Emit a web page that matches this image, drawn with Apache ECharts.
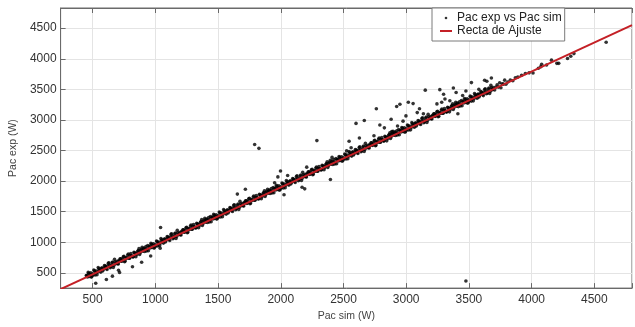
<!DOCTYPE html>
<html>
<head>
<meta charset="utf-8">
<script src="https://cdn.jsdelivr.net/npm/echarts@6/dist/echarts.min.js"></script>
<style>
html,body{margin:0;padding:0;background:#fff;}
#c{width:635px;height:327px;}
</style>
</head>
<body>
<div id="c"></div>
<script>
// ---- data ----
const seriesNames = ['Pac exp vs Pac sim', 'Recta de Ajuste'];
const xAxisName = 'Pac sim (W)';
const yAxisName = 'Pac exp (W)';
const xLimits = [245, 4800];
const yLimits = [250, 4830];

// main band, first pass
const bandSim = [
455,465,475,485,495,
505,515,525,535,545,555,565,575,585,595,
605,615,625,635,645,655,665,675,685,695,
705,715,725,735,745,755,765,775,785,795,
805,815,825,835,845,855,865,875,885,895,
905,915,925,935,945,955,965,975,985,995,
1005,1015,1025,1035,1045,1055,1065,1075,1085,1095,
1105,1115,1125,1135,1145,1155,1165,1175,1185,1195,
1205,1215,1225,1235,1245,1255,1265,1275,1285,1295,
1305,1315,1325,1335,1345,1355,1365,1375,1385,1395,
1405,1415,1425,1435,1445,1455,1465,1475,1485,1495,
1505,1515,1525,1535,1545,1555,1565,1575,1585,1595,
1605,1615,1625,1635,1645,1655,1665,1675,1685,1695,
1705,1715,1725,1735,1745,1755,1765,1775,1785,1795,
1805,1815,1825,1835,1845,1855,1865,1875,1885,1895,
1905,1915,1925,1935,1945,1955,1965,1975,1985,1995,
2005,2015,2025,2035,2045,2055,2065,2075,2085,2095,
2105,2115,2125,2135,2145,2155,2165,2175,2185,2195,
2205,2215,2225,2235,2245,2255,2265,2275,2285,2295,
2305,2315,2325,2335,2345,2355,2365,2375,2385,2395,
2405,2415,2425,2435,2445,2455,2465,2475,2485,2495,
2505,2515,2525,2535,2545,2555,2565,2575,2585,2595,
2605,2615,2625,2635,2645,2655,2665,2675,2685,2695,
2705,2715,2725,2735,2745,2755,2765,2775,2785,2795,
2805,2815,2825,2835,2845,2855,2865,2875,2885,2895,
2905,2915,2925,2935,2945,2955,2965,2975,2985,2995,
3005,3015,3025,3035,3045,3055,3065,3075,3085,3095,
3105,3115,3125,3135,3145,3155,3165,3175,3185,3195,
3205,3215,3225,3235,3245,3255,3265,3275,3285,3295,
3305,3315,3325,3335,3345,3355,3365,3375,3385,3395,
3405,3415,3425,3435,3445,3455,3465,3475,3485,3495,
3505,3515,3525,3535,3545,3555,3565,3575,3585,3595,
3605,3615,3625,3635,3645,3655,3665,3675,3685,3695,
3705,3715,3725,3735,3745,3755,3765,3775,3785,3795,
3810,3830,3850,3870,3890,3920,3950,3980,4011,4054,
4073,4080,4119,4158,4201,4216,4286,4312,4337,4594
];
const bandExp = [
457,507,441,501,445,
470,534,504,468,588,542,512,581,551,620,
595,554,654,613,598,662,587,721,651,685,
645,694,729,693,763,682,747,741,806,740,
814,773,763,827,762,821,866,800,865,919,
889,848,928,887,862,931,981,915,975,919,
944,1008,978,942,1062,1016,986,1055,1025,1094,
1069,1028,1128,1087,1072,1136,1061,1195,1125,1159,
1119,1168,1203,1167,1237,1156,1221,1215,1280,1214,
1288,1247,1237,1301,1236,1295,1340,1274,1339,1393,
1363,1322,1402,1361,1336,1405,1455,1389,1449,1393,
1418,1482,1452,1416,1536,1490,1460,1529,1499,1568,
1543,1502,1602,1561,1546,1610,1535,1669,1599,1633,
1593,1642,1677,1641,1711,1630,1695,1689,1754,1688,
1762,1721,1711,1775,1710,1769,1814,1748,1813,1867,
1837,1796,1876,1835,1810,1879,1929,1863,1923,1867,
1892,1956,1926,1890,2010,1964,1934,2003,1973,2042,
2017,1976,2076,2035,2020,2084,2009,2143,2073,2107,
2067,2116,2151,2115,2185,2104,2169,2163,2228,2162,
2236,2195,2185,2249,2184,2243,2288,2222,2287,2341,
2311,2270,2350,2309,2284,2353,2403,2337,2397,2341,
2366,2430,2400,2364,2484,2438,2408,2477,2447,2516,
2491,2450,2550,2509,2494,2558,2483,2617,2547,2581,
2541,2590,2625,2589,2659,2578,2643,2637,2702,2636,
2710,2669,2659,2723,2658,2717,2762,2696,2761,2815,
2785,2744,2824,2783,2758,2827,2877,2811,2871,2815,
2840,2904,2874,2838,2958,2912,2882,2951,2921,2990,
2965,2924,3024,2983,2968,3032,2957,3091,3021,3055,
3015,3064,3099,3063,3133,3052,3117,3111,3176,3110,
3184,3143,3133,3197,3132,3191,3236,3170,3235,3289,
3259,3218,3298,3257,3232,3301,3351,3285,3345,3289,
3314,3378,3348,3312,3432,3386,3356,3425,3395,3464,
3439,3398,3498,3457,3442,3506,3431,3565,3495,3529,
3489,3538,3573,3537,3607,3526,3591,3585,3650,3584,
3620,3650,3640,3690,3700,3730,3760,3770,3766,3845,
3871,3910,3898,3977,3925,3925,4005,4041,4084,4269
];
// main band, second pass
const bandSim2 = [
450,460,470,480,490,
500,510,520,530,540,550,560,570,580,590,
600,610,620,630,640,650,660,670,680,690,
700,710,720,730,740,750,760,770,780,790,
800,810,820,830,840,850,860,870,880,890,
900,910,920,930,940,950,960,970,980,990,
1000,1010,1020,1030,1040,1050,1060,1070,1080,1090,
1100,1110,1120,1130,1140,1150,1160,1170,1180,1190,
1200,1210,1220,1230,1240,1250,1260,1270,1280,1290,
1300,1310,1320,1330,1340,1350,1360,1370,1380,1390,
1400,1410,1420,1430,1440,1450,1460,1470,1480,1490,
1500,1510,1520,1530,1540,1550,1560,1570,1580,1590,
1600,1610,1620,1630,1640,1650,1660,1670,1680,1690,
1700,1710,1720,1730,1740,1750,1760,1770,1780,1790,
1800,1810,1820,1830,1840,1850,1860,1870,1880,1890,
1900,1910,1920,1930,1940,1950,1960,1970,1980,1990,
2000,2010,2020,2030,2040,2050,2060,2070,2080,2090,
2100,2110,2120,2130,2140,2150,2160,2170,2180,2190,
2200,2210,2220,2230,2240,2250,2260,2270,2280,2290,
2300,2310,2320,2330,2340,2350,2360,2370,2380,2390,
2400,2410,2420,2430,2440,2450,2460,2470,2480,2490,
2500,2510,2520,2530,2540,2550,2560,2570,2580,2590,
2600,2610,2620,2630,2640,2650,2660,2670,2680,2690,
2700,2710,2720,2730,2740,2750,2760,2770,2780,2790,
2800,2810,2820,2830,2840,2850,2860,2870,2880,2890,
2900,2910,2920,2930,2940,2950,2960,2970,2980,2990,
3000,3010,3020,3030,3040,3050,3060,3070,3080,3090,
3100,3110,3120,3130,3140,3150,3160,3170,3180,3190,
3200,3210,3220,3230,3240,3250,3260,3270,3280,3290,
3300,3310,3320,3330,3340,3350,3360,3370,3380,3390,
3400,3410,3420,3430,3440,3450,3460,3470,3480,3490,
3500,3510,3520,3530,3540,3550,3560,3570,3580,3590,
3600,3610,3620,3630,3640,3650,3660,3670,3680,3690
];
const bandExp2 = [
457,432,491,466,430,
485,545,464,528,508,567,532,571,531,575,
610,570,609,663,583,622,677,621,681,655,
650,705,729,688,723,772,692,741,791,740,
784,774,758,837,812,796,851,895,830,884,
854,904,888,857,947,931,906,965,940,904,
959,1019,938,1002,982,1041,1006,1045,1005,1049,
1084,1044,1083,1137,1057,1096,1151,1095,1155,1129,
1124,1179,1203,1162,1197,1246,1166,1215,1265,1214,
1258,1248,1232,1311,1286,1270,1325,1369,1304,1358,
1328,1378,1362,1331,1421,1405,1380,1439,1414,1378,
1433,1493,1412,1476,1456,1515,1480,1519,1479,1523,
1558,1518,1557,1611,1531,1570,1625,1569,1629,1603,
1598,1653,1677,1636,1671,1720,1640,1689,1739,1688,
1732,1722,1706,1785,1760,1744,1799,1843,1778,1832,
1802,1852,1836,1805,1895,1879,1854,1913,1888,1852,
1907,1967,1886,1950,1930,1989,1954,1993,1953,1997,
2032,1992,2031,2085,2005,2044,2099,2043,2103,2077,
2072,2127,2151,2110,2145,2194,2114,2163,2213,2162,
2206,2196,2180,2259,2234,2218,2273,2317,2252,2306,
2276,2326,2310,2279,2369,2353,2328,2387,2362,2326,
2381,2441,2360,2424,2404,2463,2428,2467,2427,2471,
2506,2466,2505,2559,2479,2518,2573,2517,2577,2551,
2546,2601,2625,2584,2619,2668,2588,2637,2687,2636,
2680,2670,2654,2733,2708,2692,2747,2791,2726,2780,
2750,2800,2784,2753,2843,2827,2802,2861,2836,2800,
2855,2915,2834,2898,2878,2937,2902,2941,2901,2945,
2980,2940,2979,3033,2953,2992,3047,2991,3051,3025,
3020,3075,3099,3058,3093,3142,3062,3111,3161,3110,
3154,3144,3128,3207,3182,3166,3221,3265,3200,3254,
3224,3274,3258,3227,3317,3301,3276,3335,3310,3274,
3329,3389,3308,3372,3352,3411,3376,3415,3375,3419,
3454,3414,3453,3507,3427,3466,3521,3465,3525,3499
];
const outlierSim = [
525,610,658,715,707,818,891,963,1039,1042,
1654,1718,1792,1826,1951,1977,1998,2026,2055,2170,
2191,2207,2288,2396,2409,2525,2545,2561,2600,2627,
2666,2743,2762,2790,2826,2880,2885,2924,2931,2950,
2975,2998,3017,3055,3088,3106,3137,3152,3245,3268,
3283,3298,3309,3348,3376,3398,3412,3450,3476,3520,
3579,3625,3643,3679,3476
];
const outlierExp = [
330,390,445,505,541,600,673,775,902,1240,
1787,1866,2598,2535,1973,2068,2164,1777,2090,1898,
1873,2228,2662,2026,2387,2493,2650,2546,2943,2705,
2991,2742,3182,2916,2870,3010,2811,3219,2900,3257,
2980,3066,3290,3267,3120,3182,3102,3487,3262,3495,
3288,3420,3341,3314,3521,3448,3102,3400,3473,3610,
3500,3648,3632,3685,366
];
// fitted line end points (Recta de Ajuste)
const fitSim = [245, 4800];
const fitExp = [233, 4551];

// ---- build chart ----
const toPairs = (xs, ys) => xs.map((x, i) => [x, ys[i]]);
const scatterData = toPairs(bandSim, bandExp)
  .concat(toPairs(bandSim2, bandExp2))
  .concat(toPairs(outlierSim, outlierExp));
const lineData = toPairs(fitSim, fitExp);

const FONT = '"Liberation Sans", Arial, Helvetica, sans-serif';
const AXIS_COLOR = '#6a6a6a';
const LABEL_COLOR = '#333333';
const GRID_COLOR = '#e4e4e4';
const RED = '#c42026';

function svgIcon(inner) {
  const svg = '<svg xmlns="http://www.w3.org/2000/svg" width="12" height="10" viewBox="0 0 12 10">' + inner + '</svg>';
  return 'image://data:image/svg+xml;charset=utf-8,' + encodeURIComponent(svg);
}
const dotIcon = svgIcon('<circle cx="6" cy="5" r="1.3" fill="#000"/>');
const lineIcon = svgIcon('<rect x="0" y="4" width="12" height="2" fill="' + RED + '"/>');

const tickFmt = v => (v % 500 === 0 ? String(v) : '');

const chart = echarts.init(document.getElementById('c'), null, { renderer: 'canvas' });
chart.setOption({
  animation: false,
  backgroundColor: '#ffffff',
  grid: {
    left: 55, right: -10, top: 8, bottom: 34,
    show: true, borderColor: AXIS_COLOR, borderWidth: 1, backgroundColor: 'transparent'
  },
  legend: {
    orient: 'vertical',
    left: 432, top: 8,
    itemWidth: 12, itemHeight: 10, itemGap: 1,
    padding: [4, 3, 4, 8],
    borderColor: '#7a7a7a', borderWidth: 1, backgroundColor: '#ffffff',
    textStyle: { fontSize: 12, color: '#222', fontFamily: FONT },
    data: [
      { name: seriesNames[0], icon: dotIcon },
      { name: seriesNames[1], icon: lineIcon }
    ]
  },
  xAxis: [
    {
      type: 'value', position: 'bottom',
      min: xLimits[0], max: xLimits[1], splitNumber: 9,
      name: xAxisName, nameLocation: 'middle', nameGap: 22,
      nameTextStyle: { fontSize: 10.5, color: '#444', fontFamily: FONT },
      axisLine: { show: true, lineStyle: { color: AXIS_COLOR } },
      axisTick: { show: true, inside: true, length: 5, lineStyle: { color: AXIS_COLOR } },
      axisLabel: { color: LABEL_COLOR, fontSize: 12, fontFamily: FONT, margin: 6, formatter: tickFmt },
      splitLine: { show: true, lineStyle: { color: GRID_COLOR, width: 1 } }
    },
    {
      type: 'value', position: 'top',
      min: xLimits[0], max: xLimits[1], splitNumber: 9,
      axisLine: { show: true, lineStyle: { color: AXIS_COLOR } },
      axisTick: { show: true, inside: true, length: 5, lineStyle: { color: AXIS_COLOR } },
      axisLabel: { show: false },
      splitLine: { show: false }
    }
  ],
  yAxis: [
    {
      type: 'value', position: 'left',
      min: yLimits[0], max: yLimits[1], splitNumber: 9,
      name: yAxisName, nameLocation: 'middle', nameGap: 27,
      nameTextStyle: { fontSize: 10.5, color: '#444', fontFamily: FONT },
      axisLine: { show: true, lineStyle: { color: AXIS_COLOR } },
      axisTick: { show: true, inside: true, length: 5, lineStyle: { color: AXIS_COLOR } },
      axisLabel: { color: LABEL_COLOR, fontSize: 12, fontFamily: FONT, margin: 4, formatter: tickFmt },
      splitLine: { show: true, lineStyle: { color: GRID_COLOR, width: 1 } }
    }
  ],
  series: [
    {
      name: seriesNames[0], type: 'scatter', xAxisIndex: 0, yAxisIndex: 0,
      data: scatterData, symbol: 'circle', symbolSize: 3.6,
      itemStyle: { color: '#000' }, z: 2, silent: true, large: false
    },
    {
      name: seriesNames[1], type: 'line', xAxisIndex: 0, yAxisIndex: 0,
      data: lineData, showSymbol: false, symbol: 'none', clip: true,
      lineStyle: { color: RED, width: 2 }, itemStyle: { color: RED }, z: 3, silent: true
    }
  ]
});
</script>
</body>
</html>
